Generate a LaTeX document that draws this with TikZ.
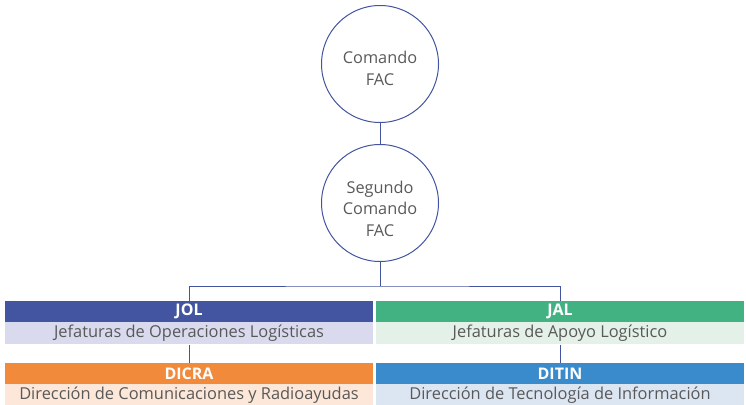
\documentclass[tikz,border=0pt]{standalone}
\usepackage{fontspec}
\setmainfont{Open Sans}
\definecolor{linkblue}{HTML}{4355A0}
\definecolor{txtgray}{HTML}{595959}
\definecolor{jolhead}{HTML}{4355A0}
\definecolor{jolsub}{HTML}{D9DAEE}
\definecolor{jalhead}{HTML}{43B283}
\definecolor{jalsub}{HTML}{E3F1E8}
\definecolor{dicrahead}{HTML}{F28A3C}
\definecolor{dicrasub}{HTML}{FDE7D8}
\definecolor{ditinhead}{HTML}{3A8BCB}
\definecolor{ditinsub}{HTML}{DCE6F3}

\begin{document}
\begin{tikzpicture}[x=1pt,y=-1pt]
\tikzset{
  unit/.style={circle,draw=linkblue,line width=1pt,minimum size=117pt,
    inner sep=0pt},
  unittext/.style={align=center,text=txtgray,font=\fontsize{16.3}{21.5}\selectfont},
  head/.style={rectangle,minimum width=368pt,minimum height=21pt,inner sep=0pt,
    text=white,font=\fontsize{16}{18}\selectfont\bfseries},
  desc/.style={rectangle,minimum width=368pt,minimum height=22pt,inner sep=0pt,
    text=txtgray,font=\fontsize{16.4}{19}\selectfont,anchor=north},
  link/.style={draw=linkblue,line width=1pt}
}
\useasboundingbox (0,0) rectangle (746,404);
% top of the chart
\node[unit,label={[unittext,yshift=-4.5pt]center:Comando\\FAC}] (cmd) at (380,64) {};
\node[unit,label={[unittext,yshift=-5.5pt]center:Segundo\\Comando\\FAC}] (seg) at (380,203) {};
\coordinate (bar) at (380,286);
% jefaturas
\node[head,fill=jolhead] (jol) at (189,311.5) {JOL};
\node[desc,fill=jolsub] (jolsub) at (jol.south) {Jefaturas de Operaciones Logísticas};
\node[head,fill=jalhead] (jal) at (560,311.5) {JAL};
\node[desc,fill=jalsub] (jalsub) at (jal.south) {Jefaturas de Apoyo Logístico};
% direcciones
\node[head,fill=dicrahead] (dicra) at (189,373.5) {DICRA};
\node[desc,fill=dicrasub] (dicrasub) at (dicra.south) {Dirección de Comunicaciones y Radioayudas};
\node[head,fill=ditinhead] (ditin) at (560,373.5) {DITIN};
\node[desc,fill=ditinsub] (ditinsub) at (ditin.south) {Dirección de Tecnología de Información};
% connectors
\draw[link] (cmd) -- (seg);
\draw[link] (seg) -- (bar);
\draw[link] (jol.north) |- (bar) -| (jal.north);
\draw[link] (jolsub) -- (dicra);
\draw[link] (jalsub) -- (ditin);
\end{tikzpicture}
\end{document}
